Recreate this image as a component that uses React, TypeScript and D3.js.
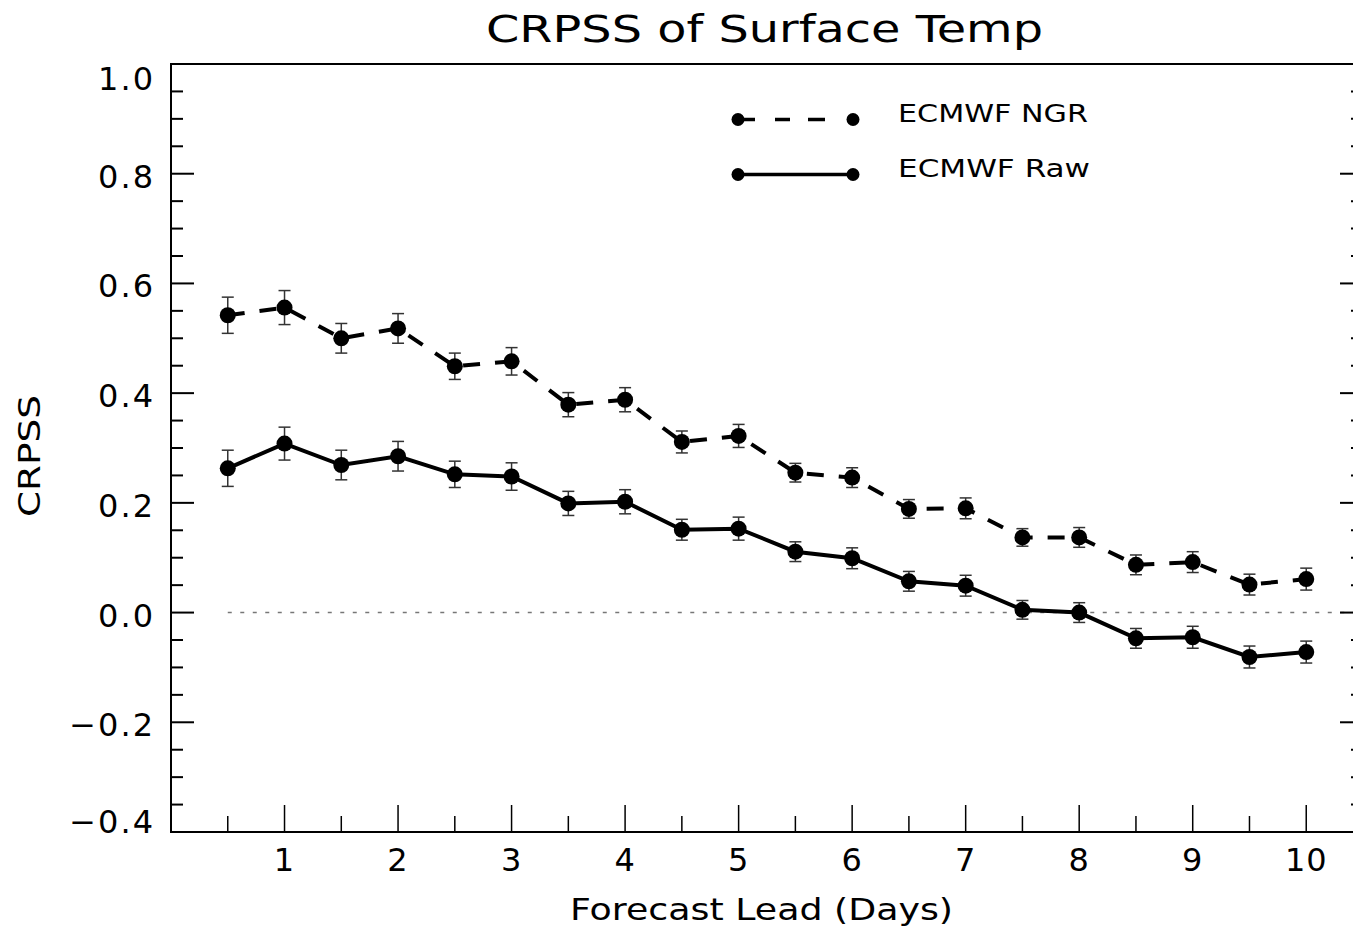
import React from "react";
import * as d3 from "d3";

const leads = [0.5, 1, 1.5, 2, 2.5, 3, 3.5, 4, 4.5, 5, 5.5, 6, 6.5, 7, 7.5, 8, 8.5, 9, 9.5, 10];
const ngrValues = [0.542, 0.556, 0.500, 0.518, 0.449, 0.458, 0.379, 0.388, 0.311, 0.322, 0.255, 0.246, 0.189, 0.190, 0.137, 0.137, 0.087, 0.092, 0.051, 0.061];
const ngrErr = [0.033, 0.031, 0.027, 0.027, 0.024, 0.025, 0.022, 0.022, 0.020, 0.021, 0.017, 0.018, 0.017, 0.019, 0.016, 0.018, 0.018, 0.019, 0.019, 0.020];
const rawValues = [0.263, 0.308, 0.269, 0.285, 0.252, 0.248, 0.199, 0.202, 0.151, 0.153, 0.111, 0.099, 0.057, 0.049, 0.005, 0.000, -0.047, -0.045, -0.081, -0.072];
const rawErr = [0.033, 0.030, 0.027, 0.027, 0.024, 0.025, 0.022, 0.022, 0.019, 0.021, 0.018, 0.019, 0.018, 0.019, 0.017, 0.018, 0.018, 0.020, 0.020, 0.020];
const yMajorTicks = [-0.4, -0.2, 0.0, 0.2, 0.4, 0.6, 0.8, 1.0];
const xMajorTicks = [1, 2, 3, 4, 5, 6, 7, 8, 9, 10];
const seriesNames = ["ECMWF NGR", "ECMWF Raw"];

const W = 1353;
const H = 938;
const L = 171, R = 1363, T = 64, B = 832;
const FONT = "'DejaVu Sans', sans-serif";

export default function App() {
  const x = d3.scaleLinear().domain([0, 10.5]).range([L, R]);
  const y = d3.scaleLinear().domain([-0.4, 1.0]).range([B, T]);
  const fmt = d3.format(".1f");

  const yMinor = d3.range(-0.4, 1.0001, 0.05).map((v) => +v.toFixed(2)).filter((v) => !yMajorTicks.some((m) => Math.abs(m - v) < 1e-6));
  const xMinor = d3.range(0.5, 10.5, 1);

  const line = d3.line<number>().x((_, i) => x(leads[i])).y((d) => y(d));

  const series = [
    { vals: ngrValues, err: ngrErr, dash: "17,15", legendDash: "17,20,15,18,17,40" },
    { vals: rawValues, err: rawErr, dash: undefined, legendDash: undefined },
  ];

  const legendY = [119.5, 174.5];

  return (
    <div style={{ position: "absolute", left: 0, top: 0, width: W, height: H, overflow: "hidden" }}>
      <svg width={W} height={H} style={{ display: "block", background: "#fff" }}>
        {/* title */}
        <text x={486} y={42} fontFamily={FONT} fontSize={37} textLength={557} lengthAdjust="spacingAndGlyphs" fill="#000">
          CRPSS of Surface Temp
        </text>

        {/* zero reference line */}
        <line x1={x(0.5)} x2={R} y1={y(0)} y2={y(0)} stroke="#777" strokeWidth={1.5} strokeDasharray="4,8.5" />

        {/* axes frame */}
        <line x1={L} x2={L} y1={T - 1} y2={B + 1} stroke="#000" strokeWidth={2} />
        <line x1={R} x2={R} y1={T - 1} y2={B + 1} stroke="#000" strokeWidth={2} />
        <line x1={L - 1} x2={R + 1} y1={T} y2={T} stroke="#000" strokeWidth={2} />
        <line x1={L - 1} x2={R + 1} y1={B} y2={B} stroke="#000" strokeWidth={2} />

        {/* y ticks */}
        {yMajorTicks.map((v) => (
          <g key={"ym" + v}>
            <line x1={L} x2={L + 23} y1={y(v)} y2={y(v)} stroke="#000" strokeWidth={2} />
            <line x1={R} x2={R - 23} y1={y(v)} y2={y(v)} stroke="#000" strokeWidth={2} />
            <text
              x={155}
              y={Math.max(Math.min(y(v) + 14, B + 1), T + 26)}
              textAnchor="end"
              fontFamily={FONT}
              fontSize={32}
              letterSpacing={2}
              fill="#000"
            >
              {fmt(v)}
            </text>
          </g>
        ))}
        {yMinor.map((v) => (
          <g key={"yn" + v}>
            <line x1={L} x2={L + 12} y1={y(v)} y2={y(v)} stroke="#000" strokeWidth={2} />
            <line x1={R} x2={R - 12} y1={y(v)} y2={y(v)} stroke="#000" strokeWidth={2} />
          </g>
        ))}

        {/* x ticks */}
        {xMajorTicks.map((v) => (
          <g key={"xm" + v}>
            <line x1={x(v)} x2={x(v)} y1={B} y2={B - 27} stroke="#000" strokeWidth={1.5} />
            <text x={x(v)} y={871} textAnchor="middle" fontFamily={FONT} fontSize={32} letterSpacing={1} fill="#000">
              {v}
            </text>
          </g>
        ))}
        {xMinor.map((v) => (
          <line key={"xn" + v} x1={x(v)} x2={x(v)} y1={B} y2={B - 16} stroke="#000" strokeWidth={1.5} />
        ))}

        {/* axis titles */}
        <text x={570} y={920} fontFamily={FONT} fontSize={31} textLength={383} lengthAdjust="spacingAndGlyphs" fill="#000">
          Forecast Lead (Days)
        </text>
        <text
          transform={`translate(40,517) rotate(-90)`}
          fontFamily={FONT}
          fontSize={31}
          textLength={122}
          lengthAdjust="spacingAndGlyphs"
          fill="#000"
        >
          CRPSS
        </text>

        {/* series */}
        {series.map((s, si) => (
          <g key={"s" + si}>
            <path d={line(s.vals) || ""} fill="none" stroke="#000" strokeWidth={4} strokeDasharray={s.dash} />
            {s.vals.map((v, i) => (
              <g key={i}>
                <line x1={x(leads[i])} x2={x(leads[i])} y1={y(v - s.err[i])} y2={y(v + s.err[i])} stroke="#333" strokeWidth={1.5} />
                <line x1={x(leads[i]) - 6} x2={x(leads[i]) + 6} y1={y(v - s.err[i])} y2={y(v - s.err[i])} stroke="#333" strokeWidth={1.5} />
                <line x1={x(leads[i]) - 6} x2={x(leads[i]) + 6} y1={y(v + s.err[i])} y2={y(v + s.err[i])} stroke="#333" strokeWidth={1.5} />
                <circle cx={x(leads[i])} cy={y(v)} r={8} fill="#000" />
              </g>
            ))}
          </g>
        ))}

        {/* legend */}
        {series.map((s, si) => (
          <g key={"lg" + si}>
            <line x1={738} x2={853} y1={legendY[si]} y2={legendY[si]} stroke="#000" strokeWidth={3.5} strokeDasharray={s.legendDash} />
            <circle cx={738} cy={legendY[si]} r={6.5} fill="#000" />
            <circle cx={853} cy={legendY[si]} r={6.5} fill="#000" />
            <text x={898} y={legendY[si] + 2} fontFamily={FONT} fontSize={24} textLength={si === 0 ? 190 : 192} lengthAdjust="spacingAndGlyphs" fill="#000">
              {seriesNames[si]}
            </text>
          </g>
        ))}
      </svg>
    </div>
  );
}
